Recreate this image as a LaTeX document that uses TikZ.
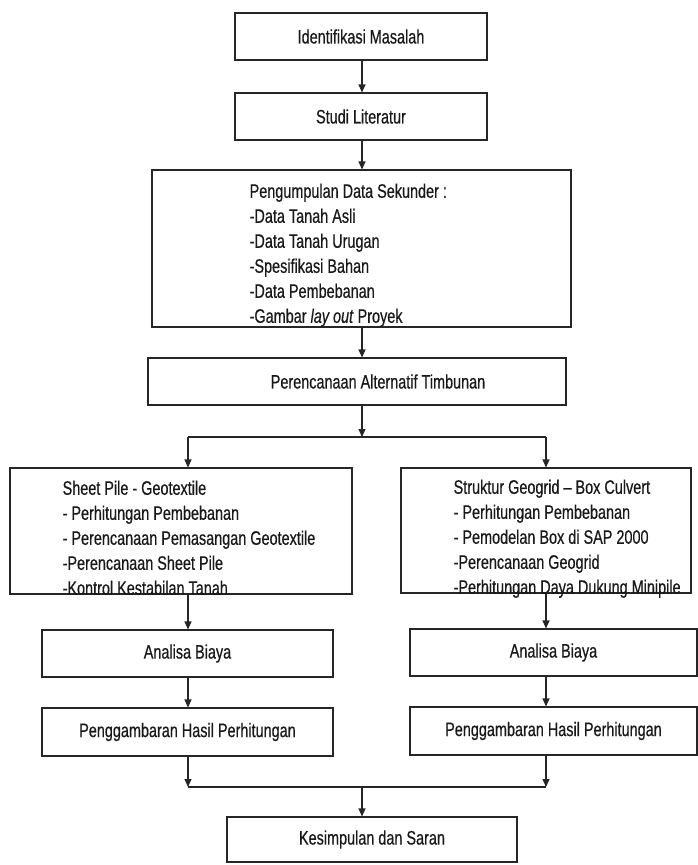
\documentclass[tikz,border=0pt]{standalone}
\usepackage{fontspec}
\setmainfont{Liberation Sans}[FakeStretch=0.74, FakeBold=0.5]
\usetikzlibrary{arrows.meta}
\begin{document}
\begin{tikzpicture}[x=1pt,y=-1pt,
  box/.style={draw=black!85, line width=1.1pt, rectangle, inner sep=0pt,
    font=\fontsize{19.5}{25}\selectfont, text=black!90},
  txt/.style={inner sep=0pt, align=left, font=\fontsize{19.5}{25}\selectfont, text=black!90},
  arr/.style={draw=black!85, line width=1.1pt, -{Triangle[length=8pt,width=7pt]}},
  ln/.style={draw=black!85, line width=1.1pt}]
\fill[white] (0,0) rectangle (698,865);
\useasboundingbox (0,0) rectangle (698,865);

\coordinate (mcol) at (362,0);
\coordinate (lcol) at (188,0);
\coordinate (rcol) at (546,0);
\coordinate (split) at (362,437);
\coordinate (merge) at (362,787);

\node[box, minimum width=252pt, minimum height=47pt] (ident) at (361,36.5) {Identifikasi Masalah};
\node[box, minimum width=252pt, minimum height=47pt] (studi) at (361,116.5) {Studi Literatur};
\node[box, minimum width=419pt, minimum height=157pt] (peng) at (361.5,248.5) {};
\node[txt, anchor=north west] (pengtxt) at ([xshift=98pt,yshift=-14pt]peng.north west)
  {Pengumpulan Data Sekunder :\\-Data Tanah Asli\\-Data Tanah Urugan\\-Spesifikasi Bahan\\-Data Pembebanan\\-Gambar \textit{lay out} Proyek};
\node[box, minimum width=418pt, minimum height=47pt] (palt) at (357,381.5) {\hspace*{42pt}Perencanaan Alternatif Timbunan};

\node[box, minimum width=342pt, minimum height=126pt] (lbox) at (181,531) {};
\node[txt, anchor=north west] (ltxt) at ([xshift=53pt,yshift=-13pt]lbox.north west)
  {Sheet Pile - Geotextile\\- Perhitungan Pembebanan\\- Perencanaan Pemasangan Geotextile\\-Perencanaan Sheet Pile\\-Kontrol Kestabilan Tanah};
\node[box, minimum width=290pt, minimum height=125pt] (rbox) at (546,530.5) {};
\node[txt, anchor=north west] (rtxt) at ([xshift=53pt,yshift=-12pt]rbox.north west)
  {Struktur Geogrid -- Box Culvert\\- Perhitungan Pembebanan\\- Pemodelan Box di SAP 2000\\-Perencanaan Geogrid\\-Perhitungan Daya Dukung Minipile};

\node[box, minimum width=291pt, minimum height=47pt] (lan) at (187.5,653.5) {Analisa Biaya};
\node[box, minimum width=287pt, minimum height=47pt] (ran) at (553.5,652.5) {Analisa Biaya};
\node[box, minimum width=291pt, minimum height=48pt] (lpg) at (187.5,732) {Penggambaran Hasil Perhitungan};
\node[box, minimum width=287pt, minimum height=48pt] (rpg) at (553.5,731) {Penggambaran Hasil Perhitungan};
\node[box, minimum width=290pt, minimum height=45pt] (kes) at (372,839.5) {Kesimpulan dan Saran};

\draw[arr] (ident.south -| mcol) -- (studi.north -| mcol);
\draw[arr] (studi.south -| mcol) -- (peng.north -| mcol);
\draw[arr] (peng.south -| mcol) -- (palt.north -| mcol);
\draw[arr] (palt.south -| mcol) -- (split);
\draw[ln] (split -| lcol) -- (split -| rcol);
\draw[arr] (split -| lcol) -- (lbox.north -| lcol);
\draw[arr] (split -| rcol) -- (rbox.north -| rcol);
\draw[arr] (lbox.south -| lcol) -- (lan.north -| lcol);
\draw[arr] (rbox.south -| rcol) -- (ran.north -| rcol);
\draw[arr] (lan.south -| lcol) -- (lpg.north -| lcol);
\draw[arr] (ran.south -| rcol) -- (rpg.north -| rcol);
\draw[arr] (lpg.south -| lcol) -- (merge -| lcol);
\draw[arr] (rpg.south -| rcol) -- (merge -| rcol);
\draw[ln] (merge -| lcol) -- (merge -| rcol);
\draw[arr] (merge) -- (kes.north -| merge);
\end{tikzpicture}
\end{document}
